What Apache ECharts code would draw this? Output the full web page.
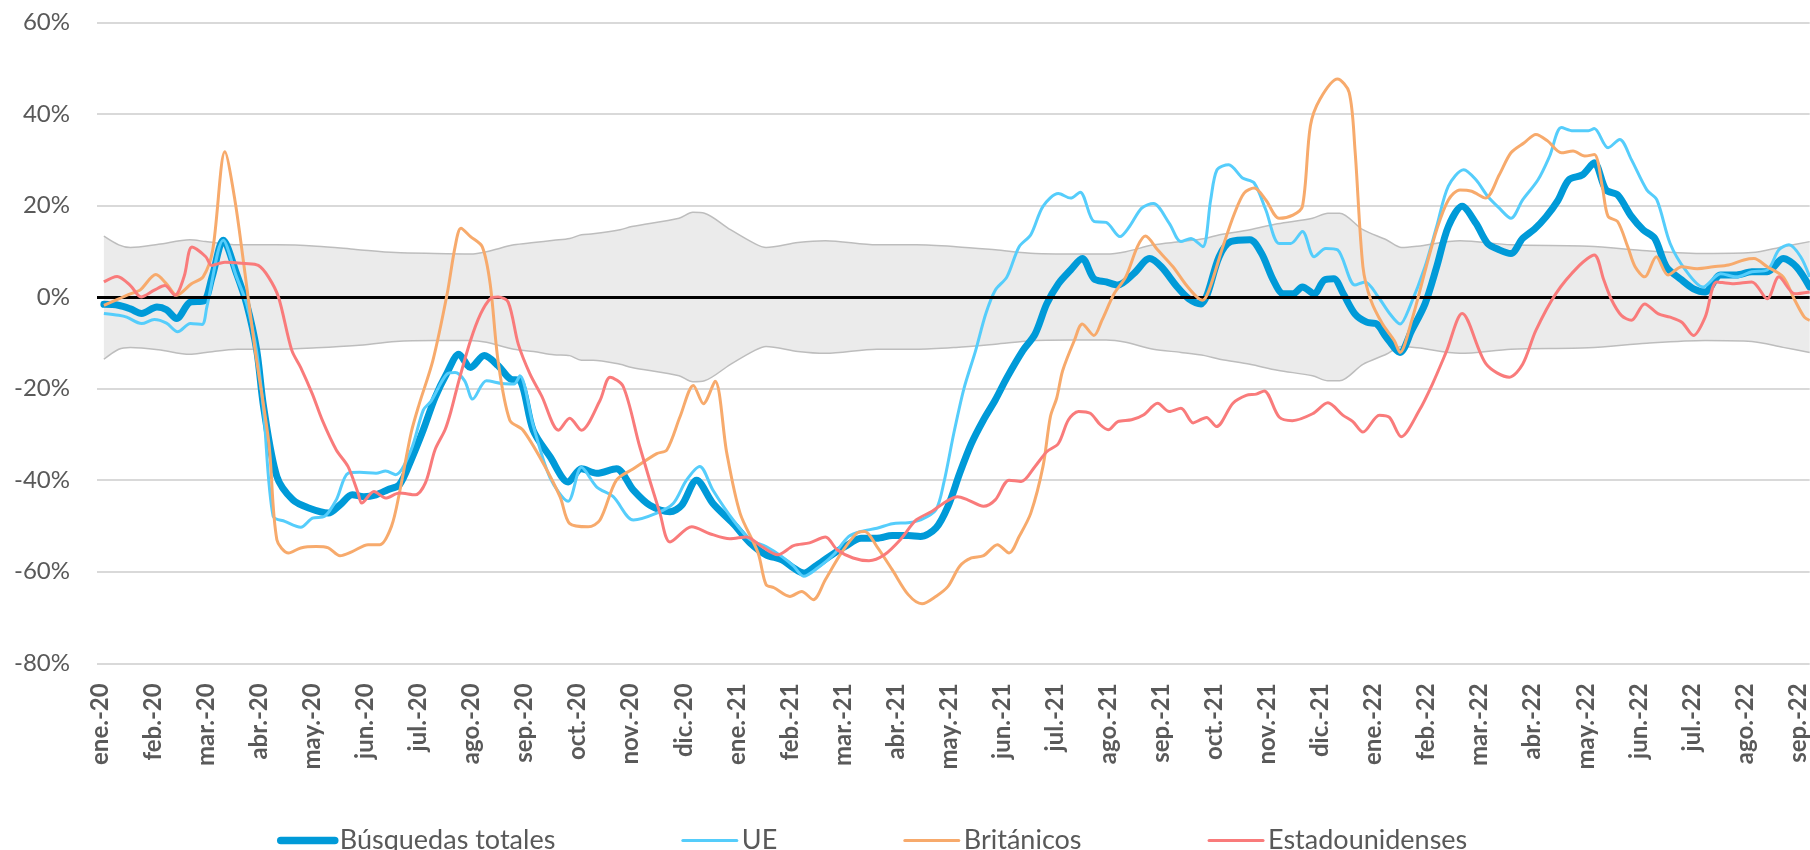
<!DOCTYPE html>
<html>
<head>
<meta charset="utf-8">
<script src="https://cdn.jsdelivr.net/npm/echarts@6/dist/echarts.min.js"></script>
<style>
html,body{margin:0;padding:0;background:#fff;}
#chart{width:1810px;height:850px;}
</style>
</head>
<body>
<div id="chart"></div>
<script>
// x positions are in months since 1 January 2020 (0 = ene.-20)
const monthLabels = ['ene.-20','feb.-20','mar.-20','abr.-20','may.-20','jun.-20','jul.-20','ago.-20','sep.-20','oct.-20','nov.-20','dic.-20',
  'ene.-21','feb.-21','mar.-21','abr.-21','may.-21','jun.-21','jul.-21','ago.-21','sep.-21','oct.-21','nov.-21','dic.-21',
  'ene.-22','feb.-22','mar.-22','abr.-22','may.-22','jun.-22','jul.-22','ago.-22','sep.-22'];
const yTicks = [-80,-60,-40,-20,0,20,40,60];

const totalX = [0.07,0.34,0.57,0.78,1.07,1.25,1.44,1.70,1.95,2.11,2.32,2.57,2.76,2.95,3.08,3.33,3.63,3.93,4.30,4.52,4.75,4.97,5.20,5.42,5.64,5.86,6.09,6.31,6.54,6.76,6.98,7.24,7.50,7.73,7.91,8.16,8.48,8.82,9.07,9.36,9.73,10.05,10.36,10.74,10.96,11.24,11.55,11.93,12.25,12.55,12.85,13.07,13.26,13.48,13.74,14.04,14.34,14.64,14.93,15.23,15.46,15.75,15.98,16.20,16.42,16.65,16.87,17.09,17.39,17.62,17.84,18.06,18.29,18.51,18.73,18.96,19.18,19.48,19.78,20.00,20.30,20.52,20.75,20.87,21.09,21.31,21.67,21.89,22.11,22.30,22.48,22.66,22.88,23.07,23.25,23.43,23.65,23.87,24.06,24.24,24.50,24.72,24.97,25.19,25.41,25.67,25.93,26.15,26.37,26.59,26.81,27.03,27.25,27.47,27.68,27.94,28.16,28.38,28.60,28.86,29.08,29.30,29.52,29.81,30.03,30.25,30.54,30.84,31.13,31.42,31.72,31.97,32.22];
const totalY = [-1.6,-1.8,-2.6,-3.6,-2.2,-2.8,-4.7,-1.1,-0.9,4.4,12.4,5.1,-1.5,-11.6,-24.0,-39.2,-44.3,-46.1,-47.2,-45.4,-43.2,-43.6,-43.2,-42.1,-41.0,-35.6,-29.0,-22.0,-16.5,-12.5,-15.4,-12.8,-15.0,-17.9,-18.2,-29.1,-34.9,-40.4,-37.5,-38.5,-37.5,-42.2,-45.5,-46.9,-45.5,-40.0,-45.1,-49.5,-53.7,-56.3,-57.4,-59.2,-60.3,-58.8,-56.7,-54.5,-52.7,-52.7,-52.1,-52.1,-52.3,-50.5,-45.7,-38.5,-32.0,-26.8,-22.5,-17.6,-11.7,-8.1,-1.5,2.9,5.9,8.4,4.0,3.3,2.6,5.1,8.4,6.6,2.2,-0.4,-1.5,0.7,8.8,12.1,12.5,9.5,3.7,0.7,0.7,2.2,0.7,3.7,4.0,0.7,-3.7,-5.5,-5.9,-8.8,-12.1,-7.3,-1.5,6.6,15.4,19.8,16.1,11.7,10.3,9.5,12.8,14.8,17.5,21.0,25.6,26.7,29.3,23.4,22.3,17.6,14.7,12.8,6.6,3.7,1.8,1.1,4.8,4.8,5.5,5.5,8.4,6.6,2.2];

const ueX = [0.07,0.35,0.50,0.78,1.02,1.25,1.46,1.70,1.92,2.01,2.32,2.57,2.76,2.95,3.08,3.26,3.48,3.78,4.00,4.23,4.45,4.67,4.89,5.20,5.38,5.57,5.86,6.09,6.24,6.54,6.69,6.87,7.02,7.28,7.58,7.80,7.91,8.16,8.48,8.82,9.07,9.36,9.67,10.05,10.49,10.80,11.05,11.30,11.55,11.93,12.25,12.55,12.85,13.07,13.26,13.52,13.82,14.11,14.34,14.64,14.93,15.23,15.46,15.75,15.90,16.09,16.28,16.50,16.69,16.87,17.09,17.32,17.54,17.77,18.06,18.29,18.47,18.73,18.96,19.22,19.40,19.63,19.85,20.15,20.37,20.56,20.78,20.93,21.05,21.27,21.53,21.75,21.97,22.22,22.44,22.66,22.88,23.10,23.32,23.65,23.84,24.09,24.31,24.50,24.68,24.97,25.19,25.41,25.70,25.93,26.15,26.37,26.59,26.81,27.10,27.32,27.54,27.76,28.05,28.16,28.42,28.64,28.86,29.15,29.34,29.59,29.88,30.21,30.54,30.84,31.13,31.42,31.64,31.83,32.05,32.22];
const ueY = [-3.6,-4.0,-4.4,-5.8,-4.9,-5.7,-7.6,-5.8,-6.0,-2.2,12.4,4.4,-1.5,-12.0,-25.0,-47.9,-49.0,-50.3,-48.3,-47.9,-44.3,-38.5,-38.3,-38.5,-38.0,-38.8,-33.4,-24.7,-22.7,-16.8,-16.5,-18.3,-22.3,-18.3,-18.9,-19.0,-17.2,-28.0,-39.5,-44.6,-37.2,-41.5,-43.6,-48.7,-47.2,-45.1,-40.0,-37.0,-42.2,-48.7,-53.0,-54.5,-56.7,-58.8,-61.0,-59.2,-56.3,-52.3,-51.2,-50.5,-49.5,-49.3,-48.7,-46.5,-40.6,-29.7,-20.0,-11.7,-3.7,1.5,4.4,11.0,13.6,19.8,22.6,21.6,22.9,16.5,16.3,13.2,15.4,19.4,20.4,16.1,12.1,12.8,11.0,21.2,27.8,28.9,26.0,24.9,19.0,11.7,11.7,14.3,8.8,10.6,10.3,2.6,3.3,0.0,-3.7,-5.9,-2.2,6.6,15.4,24.2,27.8,25.6,22.0,19.4,17.2,21.2,25.6,30.8,37.0,36.3,36.3,36.8,32.6,34.4,30.0,23.4,21.2,11.7,5.9,2.2,5.1,4.4,5.5,5.9,10.3,11.4,8.8,4.4];

const ukX = [0.07,0.35,0.57,0.75,1.05,1.25,1.44,1.72,1.94,2.12,2.35,2.54,2.73,2.92,3.18,3.33,3.55,3.78,4.07,4.30,4.52,4.75,5.05,5.27,5.49,5.64,5.86,6.01,6.27,6.54,6.69,6.80,6.98,7.20,7.35,7.50,7.72,7.97,8.35,8.67,8.85,9.20,9.42,9.73,10.05,10.49,10.68,10.93,11.18,11.37,11.59,11.81,12.06,12.40,12.55,12.70,13.00,13.22,13.44,13.67,13.97,14.26,14.41,14.64,14.93,15.23,15.49,15.75,15.98,16.20,16.42,16.65,16.91,17.13,17.32,17.54,17.77,17.91,18.03,18.14,18.36,18.51,18.73,18.88,19.11,19.33,19.55,19.70,19.93,20.22,20.45,20.67,20.78,20.90,21.16,21.38,21.56,21.75,21.97,22.22,22.48,22.66,22.81,22.99,23.32,23.54,23.65,23.80,23.95,24.17,24.39,24.50,24.72,24.99,25.19,25.41,25.63,25.85,26.11,26.37,26.59,26.84,27.06,27.28,27.54,27.76,27.98,28.16,28.31,28.42,28.60,28.79,28.93,29.11,29.33,29.55,29.81,30.10,30.40,30.69,30.98,31.17,31.42,31.72,31.94,32.12,32.22];
const ukY = [-1.8,-0.4,0.7,1.5,4.9,2.9,0.4,2.9,4.4,10.2,31.7,21.1,5.1,-11.6,-32.0,-53.0,-55.9,-54.8,-54.5,-54.8,-56.5,-55.6,-54.1,-54.1,-50.1,-42.8,-29.7,-23.5,-13.9,0.7,11.0,15.0,13.2,11.0,2.9,-14.0,-26.9,-29.1,-36.3,-43.7,-49.5,-50.2,-48.7,-40.0,-37.5,-34.2,-33.4,-26.1,-19.3,-23.3,-18.4,-34.1,-47.2,-55.9,-62.8,-63.5,-65.4,-64.3,-66.1,-61.7,-55.9,-51.6,-51.2,-54.5,-59.6,-65.0,-67.0,-65.4,-63.2,-58.8,-57.0,-56.5,-54.1,-55.9,-52.3,-47.2,-37.0,-26.1,-22.0,-16.1,-9.5,-5.9,-8.4,-5.1,0.7,4.4,11.0,13.3,10.3,6.6,2.9,0.0,-0.7,1.5,11.0,18.3,22.7,23.8,21.2,17.2,17.9,19.8,37.4,43.2,47.6,44.7,32.2,6.6,-0.7,-5.9,-9.5,-12.1,-5.1,6.5,14.7,21.2,23.4,23.1,21.6,26.7,31.5,33.7,35.5,34.1,31.5,31.9,30.8,31.1,24.2,17.6,16.5,11.0,6.6,4.4,8.8,4.8,6.6,6.2,6.6,7.0,8.1,8.4,6.6,4.4,-0.7,-4.4,-5.1];

const usX = [0.07,0.32,0.57,0.77,1.02,1.22,1.41,1.58,1.73,1.99,2.10,2.35,2.73,2.98,3.17,3.36,3.61,3.78,4.00,4.19,4.45,4.67,4.86,4.93,5.16,5.38,5.64,5.94,6.13,6.31,6.50,6.61,6.76,6.98,7.17,7.35,7.50,7.69,7.88,8.10,8.32,8.64,8.85,9.07,9.42,9.61,9.86,10.17,10.55,10.74,11.15,11.49,11.87,12.18,12.47,12.77,13.07,13.37,13.67,13.89,14.19,14.49,14.78,15.08,15.38,15.68,15.94,16.16,16.35,16.65,16.87,17.13,17.36,17.62,17.84,18.06,18.25,18.44,18.66,18.85,19.00,19.18,19.44,19.67,19.93,20.15,20.37,20.60,20.72,20.85,21.04,21.35,21.60,21.79,21.94,22.22,22.47,22.85,23.14,23.42,23.61,23.80,24.11,24.30,24.52,24.86,25.11,25.37,25.67,26.12,26.56,26.81,27.06,27.44,27.88,28.16,28.34,28.49,28.67,28.86,29.11,29.37,29.59,29.81,30.03,30.25,30.47,30.76,31.13,31.42,31.64,31.94,32.22];
const usY = [3.3,4.5,2.5,0.0,1.5,2.5,0.4,4.4,10.9,8.8,6.9,7.6,7.3,6.9,4.4,0.0,-11.6,-15.4,-21.2,-27.0,-33.4,-37.0,-42.8,-45.0,-42.5,-43.9,-42.8,-43.2,-40.6,-33.4,-29.0,-25.0,-18.3,-9.5,-3.7,-0.4,0.0,-1.1,-10.3,-16.8,-21.6,-29.1,-26.5,-29.1,-22.6,-17.5,-19.6,-32.7,-47.2,-53.5,-50.2,-51.7,-52.8,-52.4,-54.5,-56.3,-54.3,-53.7,-52.4,-55.2,-57.0,-57.6,-56.3,-53.0,-48.7,-46.8,-44.7,-43.6,-44.3,-45.7,-44.3,-40.0,-40.3,-37.0,-33.8,-32.0,-26.8,-25.0,-25.4,-27.9,-29.0,-27.2,-26.8,-25.7,-23.2,-25.0,-24.3,-27.5,-26.9,-26.3,-28.3,-23.2,-21.5,-21.2,-20.5,-26.2,-27.0,-25.5,-23.1,-25.8,-27.2,-29.5,-25.8,-26.3,-30.5,-24.8,-19.0,-12.0,-3.6,-14.6,-17.5,-14.7,-7.3,0.8,6.9,9.2,3.7,-0.7,-4.0,-5.1,-1.5,-3.7,-4.4,-5.5,-8.4,-4.4,3.3,2.9,3.3,-0.4,4.4,0.7,1.1];

const bandX = [0.07,0.35,0.57,1.10,1.69,1.99,2.59,3.33,4.08,4.82,5.57,6.31,6.98,7.28,7.80,8.17,8.55,8.85,9.07,9.29,9.80,10.02,10.91,11.17,11.39,11.88,12.33,12.55,13.15,13.67,14.64,15.38,16.13,16.87,17.62,18.36,18.96,19.33,19.85,20.37,20.82,21.10,21.67,22.19,22.85,23.14,23.36,23.80,24.24,24.53,24.83,25.63,26.59,28.05,29.15,30.25,31.13,31.72,32.22];
const bandUpper = [13.3,11.4,10.8,11.5,12.5,12.1,11.4,11.4,11.1,10.4,9.7,9.5,9.4,9.9,11.4,11.9,12.4,12.8,13.6,13.8,14.7,15.4,17.2,18.5,18.3,14.7,11.7,10.8,11.9,12.3,11.4,11.4,11.0,10.3,9.5,9.4,9.4,9.9,11.4,12.1,12.8,13.6,14.7,16.0,17.2,18.3,18.3,14.7,12.5,10.8,11.1,12.3,11.4,11.1,10.1,9.5,9.7,11.0,12.1];
const bandLower = [-13.6,-11.4,-11.0,-11.5,-12.5,-12.1,-11.4,-11.4,-11.1,-10.6,-9.7,-9.5,-9.5,-9.9,-11.4,-11.9,-12.6,-12.8,-13.8,-13.8,-14.7,-15.4,-17.2,-18.5,-18.3,-14.7,-11.7,-10.8,-11.9,-12.3,-11.4,-11.4,-11.0,-10.3,-9.5,-9.4,-9.4,-9.9,-11.4,-12.1,-12.8,-13.6,-14.7,-16.0,-17.2,-18.3,-18.3,-14.7,-12.5,-10.8,-11.1,-12.3,-11.4,-11.1,-10.1,-9.5,-9.7,-11.0,-12.1];

const seriesNames = ['Búsquedas totales','UE','Británicos','Estadounidenses'];
const seriesColors = ['#009AD8','#55CDFB','#F7AA6C','#F97B7B'];
const seriesWidths = [7,3,3,3];

function pairs(xs, ys){ return xs.map((x,i)=>[x, ys[i]]); }

const FONT = "Lato, 'Open Sans', sans-serif";
const chart = echarts.init(document.getElementById('chart'));

const bandStyle = {
  type:'line', smooth:0.3, symbol:'none', silent:true, z:1,
  lineStyle:{color:'#BDBDBD', width:1.5},
  areaStyle:{color:'#EBEBEB', opacity:1, origin:0}
};

chart.setOption({
  animation:false,
  backgroundColor:'#ffffff',
  grid:{left:97, right:0, top:22.3, bottom:186.7, containLabel:false},
  legend:{
    data:seriesNames.map((n,i)=>({name:n, lineStyle:{width:i===0?7.5:3, cap:'round', color:seriesColors[i]}})),
    left:272, top:822,
    itemGap:126, itemWidth:54, itemHeight:14,
    itemStyle:{opacity:0},
    textStyle:{fontFamily:FONT, fontSize:27, color:'#595959'},
    selectedMode:false
  },
  xAxis:{
    type:'value', min:-0.06, max:32.22,
    axisLine:{show:false}, axisTick:{show:false}, splitLine:{show:false},
    axisLabel:{
      customValues: monthLabels.map((_,i)=>i),
      formatter: v => monthLabels[Math.round(v)] || '',
      rotate:90, margin:20,
      fontFamily:FONT, fontSize:24, fontWeight:'bold', color:'#595959'
    }
  },
  yAxis:{
    type:'value', min:yTicks[0], max:yTicks[yTicks.length-1], interval:20,
    axisLine:{show:false}, axisTick:{show:false},
    splitLine:{lineStyle:{color:'#D9D9D9', width:2}},
    axisLabel:{formatter:'{value}%', margin:27, fontFamily:FONT, fontSize:24, color:'#595959'}
  },
  series:[
    Object.assign({name:'bandUp', data:pairs(bandX, bandUpper),
      markLine:{silent:true, symbol:['none','none'], label:{show:false},
        lineStyle:{color:'#000000', width:3, type:'solid'}, data:[{yAxis:0}]}}, bandStyle),
    Object.assign({name:'bandLow', data:pairs(bandX, bandLower)}, bandStyle),
    {name:seriesNames[0], type:'line', smooth:0.3, symbol:'none', z:3,
      data:pairs(totalX,totalY), lineStyle:{color:seriesColors[0], width:seriesWidths[0], cap:'round', join:'round'}, itemStyle:{color:seriesColors[0]}},
    {name:seriesNames[1], type:'line', smooth:0.3, symbol:'none', z:4,
      data:pairs(ueX,ueY), lineStyle:{color:seriesColors[1], width:seriesWidths[1]}, itemStyle:{color:seriesColors[1]}},
    {name:seriesNames[2], type:'line', smooth:0.3, symbol:'none', z:5,
      data:pairs(ukX,ukY), lineStyle:{color:seriesColors[2], width:seriesWidths[2]}, itemStyle:{color:seriesColors[2]}},
    {name:seriesNames[3], type:'line', smooth:0.3, symbol:'none', z:6,
      data:pairs(usX,usY), lineStyle:{color:seriesColors[3], width:seriesWidths[3]}, itemStyle:{color:seriesColors[3]}}
  ]
});
</script>
</body>
</html>
